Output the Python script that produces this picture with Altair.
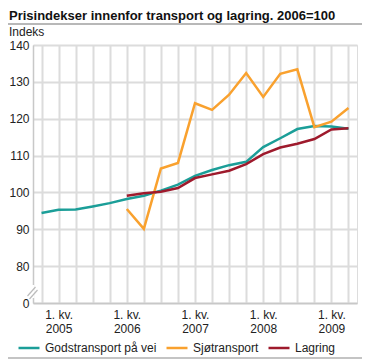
import altair as alt
import pandas as pd

quarters = ["2004K4",
            "2005K1", "2005K2", "2005K3", "2005K4",
            "2006K1", "2006K2", "2006K3", "2006K4",
            "2007K1", "2007K2", "2007K3", "2007K4",
            "2008K1", "2008K2", "2008K3", "2008K4",
            "2009K1", "2009K2"]
gods = [94.4, 95.3, 95.4, 96.2, 97.1, 98.2, 99.1, 100.5, 102.1, 104.5,
        106.1, 107.4, 108.3, 112.3, 114.7, 117.2, 118.0, 117.9, 117.3]
sjo_quarters = quarters[5:]
sjo = [95.5, 90.1, 106.5, 108.0, 124.2, 122.4, 126.5, 132.4, 125.9, 132.2,
       133.4, 117.7, 119.2, 122.9]
lagring = [99.1, 99.8, 100.2, 101.2, 103.9, 104.9, 105.9, 107.7, 110.4, 112.2,
           113.2, 114.5, 117.1, 117.4]
series_names = ["Godstransport på vei", "Sjøtransport", "Lagring"]
series_colors = ["#1b9e98", "#f9a12e", "#9e1a2c"]
y_ticks = [70, 80, 90, 100, 110, 120, 130, 140]

rows = []
for q, v in zip(quarters, gods):
    rows.append({"kvartal": q, "verdi": v, "serie": series_names[0], "ord": 2})
for q, v in zip(sjo_quarters, sjo):
    rows.append({"kvartal": q, "verdi": v, "serie": series_names[1], "ord": 0})
for q, v in zip(sjo_quarters, lagring):
    rows.append({"kvartal": q, "verdi": v, "serie": series_names[2], "ord": 1})
df = pd.DataFrame(rows)

FONT = "Arial, Liberation Sans, sans-serif"
W, H = 324, 258

lines = alt.Chart(df).mark_line(strokeWidth=2.5).encode(
    x=alt.X("kvartal:O",
            scale=alt.Scale(type="point", domain=quarters, padding=0.5),
            axis=alt.Axis(title=None, labelAngle=0, tickSize=0, labelPadding=6,
                          labelExpr="substring(datum.value,4)=='K1' ? ['1. kv.', substring(datum.value,0,4)] : ''",
                          labelFontSize=12, labelLineHeight=14, labelColor="#222",
                          labelFont=FONT, grid=True, gridColor="#dcdcdc", gridWidth=2,
                          domainColor="#c8c8c8", domainWidth=1.5)),
    y=alt.Y("verdi:Q",
            scale=alt.Scale(domain=[70, 140], nice=False, zero=False),
            axis=alt.Axis(title=None, values=y_ticks, tickSize=0, labelPadding=4,
                          labelExpr="datum.value==70 ? '0' : datum.label",
                          labelFontSize=12, labelColor="#222", labelFont=FONT,
                          grid=True, gridColor="#dcdcdc", gridWidth=2,
                          domainColor="#c8c8c8", domainWidth=1.5)),
    color=alt.Color("serie:N",
                    scale=alt.Scale(domain=series_names, range=series_colors),
                    legend=alt.Legend(title=None, orient="none", direction="horizontal",
                                      legendX=-16, legendY=291, symbolType="stroke",
                                      symbolStrokeWidth=2.5, symbolSize=440,
                                      labelFontSize=12, labelFont=FONT, labelColor="#222",
                                      labelOffset=4, columnPadding=4)),
    order=alt.Order("ord:Q"),
    detail="serie:N",
)

title = alt.Chart().mark_text(align="left", baseline="alphabetic", fontSize=13,
                              fontWeight="bold", font=FONT, color="#111").encode(
    x=alt.value(-24), y=alt.value(-25.5),
    text=alt.value("Prisindekser innenfor transport og lagring. 2006=100"))
ylabel = alt.Chart().mark_text(align="left", baseline="alphabetic", fontSize=12,
                               font=FONT, color="#222").encode(
    x=alt.value(-24), y=alt.value(-9), text=alt.value("Indeks"))
topline = alt.Chart().mark_rule(color="#a0a0a0", strokeWidth=1.5).encode(
    x=alt.value(-25), x2=alt.value(329), y=alt.value(-21))
botline = alt.Chart().mark_rule(color="#b0b0b0", strokeWidth=1.5).encode(
    x=alt.value(-25), x2=alt.value(329), y=alt.value(313))
gap = alt.Chart().mark_rule(color="white", strokeWidth=3).encode(
    x=alt.value(0), x2=alt.value(0), y=alt.value(240), y2=alt.value(253))
brk1 = alt.Chart().mark_rule(color="#bbbbbb", strokeWidth=1.2).encode(
    x=alt.value(-5.5), x2=alt.value(2.5), y=alt.value(251), y2=alt.value(242))
brk2 = alt.Chart().mark_rule(color="#bbbbbb", strokeWidth=1.2).encode(
    x=alt.value(-3.5), x2=alt.value(4.5), y=alt.value(254), y2=alt.value(245))

chart = alt.layer(lines, gap, brk1, brk2, title, ylabel, topline, botline).properties(
    width=W, height=H,
    autosize=alt.AutoSizeParams(type="none"),
    padding={"left": 25, "top": 37, "right": 5, "bottom": 56},
).configure_view(stroke=None).configure(font=FONT)

chart.save("out.html", embed_options={"renderer": "svg", "actions": False})
